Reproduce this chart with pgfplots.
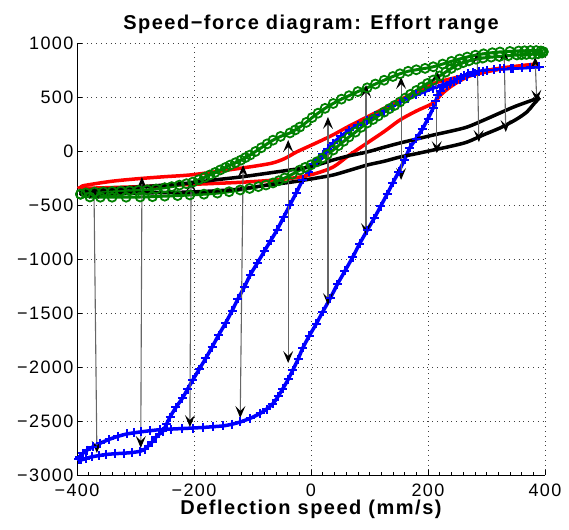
\documentclass[border=0pt]{standalone}
\usepackage{pgfplots}
\pgfplotsset{compat=1.18}
\usepackage{fontspec}
\setmainfont{Liberation Sans}
\newfontfamily\tickfont[LetterSpace=8]{Liberation Sans}
\newfontfamily\labfont[LetterSpace=7.5]{Liberation Sans}
\usetikzlibrary{arrows.meta}
\definecolor{mgreen}{rgb}{0,0.5,0}
\tikzset{
  arr/.style={black!60, line width=1.1pt, {Stealth[color=black,length=12pt,width=10pt,inset=5pt]}-{Stealth[color=black,length=12pt,width=10pt,inset=5pt]}}
}
\begin{document}
\begin{tikzpicture}
\useasboundingbox (-77pt,-54pt) rectangle (492pt,475pt);
\begin{axis}[
 scale only axis, width=468pt, height=432pt,
 xmin=-400,xmax=400,ymin=-3000,ymax=1000,
 xtick={-400,-200,0,200,400}, xticklabels={−400,−200,0,200,400},
 ytick={-3000,-2500,...,1000}, yticklabels={−3000,−2500,−2000,−1500,−1000,−500,0,500,1000},
 minor x tick num=9,
 axis x line*=bottom, axis y line*=left,
 axis line style={-, line width=0.8pt},
 tick align=inside, major tick length=5pt, minor tick length=2.5pt,
 tick style={black, line width=0.6pt},
 grid=major, grid style={black!75, dash pattern=on 0.8pt off 4pt, line width=0.6pt},
 tick label style={font=\tickfont\fontsize{18}{20}\selectfont},
 xticklabel style={yshift=-5pt},
 title={Speed−force diagram: Effort range},
 title style={font=\labfont\bfseries\fontsize{20}{23}\selectfont, yshift=0pt},
 xlabel={Deflection speed (mm/s)},
 xlabel style={font=\labfont\bfseries\fontsize{20}{23}\selectfont, yshift=3pt},
]
% blue loop
\addplot[blue, line width=3.5pt, smooth, tension=0.5, mark=+, mark size=4.5pt, mark options={line width=2pt}] coordinates {
(-397,-2855) (-393,-2860) (-385,-2848) (-375,-2832) (-362,-2820) (-350,-2810) (-335,-2803) (-320,-2798) (-306,-2792) (-292,-2780) (-284,-2760) (-278,-2730) (-271,-2690) (-265,-2650) (-259,-2620) (-253,-2593) (-247,-2530) (-241,-2463) (-231,-2375) (-220,-2290) (-211,-2205) (-202,-2120) (-191,-2020) (-180,-1920) (-169,-1815) (-158,-1705) (-146,-1593) (-135,-1480) (-125,-1370) (-114,-1260) (-104,-1148) (-92,-1040) (-80,-930) (-69,-830) (-58,-731) (-47,-615) (-36,-500) (-25,-385) (-14,-268) (-4,-190) (5,-120) (13,-70) (20,-30) (29,20) (38,74) (51,135) (65,190) (80,240) (96,287) (110,330) (125,370) (138,413) (152,454) (166,490) (180,520) (195,553) (209,583) (225,613) (240,640) (254,666) (267,690) (280,716) (294,740) (312,753) (330,762) (345,768) (360,772) (375,776) (390,780)};
\addplot[blue, line width=3.5pt, smooth, tension=0.5, mark=+, mark size=4.5pt, mark options={line width=2pt}] coordinates {
(390,780) (375,775) (360,770) (342,765) (323,760) (312,754) (300,748) (288,738) (277,728) (269,715) (262,700) (256,683) (250,665) (244,647) (238,628) (232,610) (226,590) (221,555) (217,520) (213,460) (209,400) (200,300) (190,200) (180,115) (169,30) (160,-80) (150,-190) (140,-295) (130,-400) (119,-512) (108,-623) (96,-735) (83,-860) (71,-985) (58,-1111) (45,-1235) (33,-1362) (20,-1490) (9,-1600) (-3,-1712) (-14,-1824) (-22,-1926) (-31,-2028) (-39,-2114) (-48,-2200) (-56,-2270) (-65,-2340) (-76,-2390) (-87,-2430) (-104,-2475) (-121,-2509) (-135,-2530) (-150,-2545) (-168,-2553) (-185,-2560) (-202,-2565) (-220,-2570) (-240,-2575) (-258,-2580) (-275,-2590) (-290,-2600) (-303,-2610) (-315,-2620) (-330,-2642) (-345,-2670) (-360,-2705) (-373,-2740) (-383,-2770) (-390,-2800) (-395,-2830) (-397,-2855)};
% red loop
\addplot[red, line width=3.5pt, smooth, tension=0.5, mark=none] coordinates {
(-392,-335) (-388,-320) (-340,-280) (-292,-255) (-250,-238) (-207,-222) (-160,-190) (-121,-160) (-90,-135) (-65,-110) (-45,-70) (-25,-10) (-5,40) (15,90) (38,150) (65,230) (96,315) (125,395) (152,472) (180,550) (209,625) (240,670) (267,704) (300,745) (330,772) (360,790) (390,808)};
\addplot[red, line width=3.5pt, smooth, tension=0.5, mark=none] coordinates {
(390,808) (330,765) (277,704) (258,660) (238,593) (222,520) (209,444) (180,370) (152,287) (125,180) (96,74) (65,-40) (38,-148) (10,-205) (-19,-241) (-60,-268) (-121,-290) (-207,-310) (-292,-330) (-388,-345) (-392,-335)};
% green loop
\addplot[mgreen, line width=3pt, smooth, tension=0.5, mark=o, mark size=4.5pt, mark options={line width=1.8pt}] coordinates {
(-394,-400) (-385,-388) (-370,-380) (-355,-377) (-340,-374) (-325,-371) (-310,-368) (-295,-365) (-280,-360) (-265,-352) (-250,-340) (-238,-330) (-225,-316) (-213,-303) (-202,-288) (-192,-266) (-182,-244) (-173,-222) (-164,-199) (-155,-175) (-146,-152) (-138,-130) (-129,-108) (-120,-85) (-112,-61) (-104,-37) (-95,-5) (-85,30) (-75,66) (-65,100) (-52,135) (-36,167) (-27,195) (-19,222) (-8,265) (2,310) (12,350) (24,395) (38,440) (52,480) (65,512) (80,550) (96,585) (110,620) (125,655) (140,690) (152,715) (166,738) (180,752) (195,765) (209,780) (225,805) (240,830) (254,852) (267,870) (281,887) (295,900) (310,910) (323,917) (340,922) (355,926) (365,928) (375,930) (385,930) (393,926) (397,918)};
\addplot[mgreen, line width=3pt, smooth, tension=0.5, mark=o, mark size=4.5pt, mark options={line width=1.8pt}] coordinates {
(397,918) (395,907) (388,900) (378,896) (368,894) (360,892) (352,889) (337,882) (322,875) (308,869) (294,861) (282,850) (270,835) (260,818) (250,796) (240,765) (230,730) (220,695) (209,657) (199,625) (190,593) (180,560) (170,525) (161,490) (152,454) (143,422) (134,392) (125,360) (115,325) (106,292) (96,259) (86,220) (76,175) (65,130) (56,90) (47,50) (38,9) (28,-32) (19,-68) (10,-100) (0,-128) (-10,-152) (-19,-176) (-32,-215) (-45,-250) (-55,-275) (-65,-296) (-77,-315) (-90,-330) (-105,-347) (-121,-361) (-140,-377) (-160,-390) (-183,-400) (-207,-407) (-228,-413) (-250,-418) (-271,-423) (-292,-426) (-316,-428) (-340,-428) (-360,-428) (-378,-426) (-394,-400)};
% black loop
\addplot[black, line width=3.5pt, smooth, tension=0.5, mark=none] coordinates {
(-393,-390) (-388,-370) (-340,-350) (-292,-333) (-250,-315) (-207,-296) (-160,-265) (-121,-241) (-80,-210) (-36,-176) (0,-145) (38,-83) (65,-45) (96,-9) (125,35) (152,74) (180,110) (209,148) (240,185) (267,222) (295,285) (323,352) (350,415) (391,495)};
\addplot[black, line width=3.5pt, smooth, tension=0.5, mark=none] coordinates {
(391,495) (380,430) (369,361) (350,290) (323,213) (295,150) (267,83) (240,45) (209,9) (180,-25) (152,-56) (125,-95) (96,-130) (65,-180) (38,-222) (10,-250) (-36,-290) (-80,-320) (-121,-352) (-160,-368) (-207,-380) (-250,-385) (-292,-389) (-340,-398) (-388,-407) (-393,-390)};
% arrows
\addplot[arr, mark=none] coordinates {(-371,-333) (-366,-2796)};
\addplot[arr, mark=none] coordinates {(-289,-241) (-291,-2750)};
\addplot[arr, mark=none] coordinates {(-205,-268) (-207,-2556)};
\addplot[arr, mark=none] coordinates {(-116,-130) (-121,-2472)};
\addplot[arr, mark=none] coordinates {(-39,102) (-39,-1963)};
\addplot[arr, mark=none] coordinates {(29,315) (29,-1426)};
\addplot[arr, mark=none] coordinates {(94,611) (94,-778)};
\addplot[arr, mark=none] coordinates {(154,685) (154,-268)};
\addplot[arr, mark=none] coordinates {(215,750) (215,-19)};
\addplot[arr, mark=none] coordinates {(284,917) (287,83)};
\addplot[arr, mark=none] coordinates {(330,935) (333,176)};
\addplot[arr, mark=none] coordinates {(383,870) (386,454)};
\end{axis}
\end{tikzpicture}
\end{document}
